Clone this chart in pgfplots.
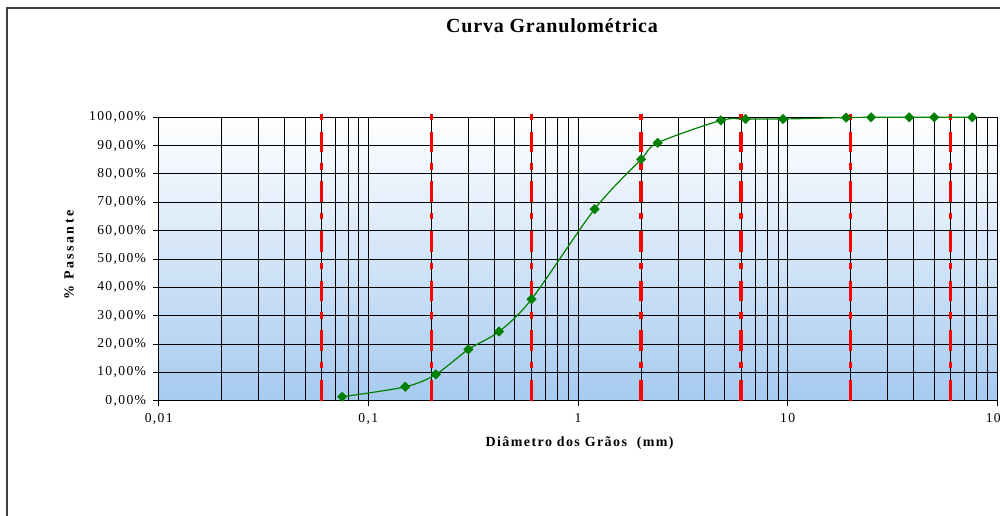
\documentclass[border=0pt]{standalone}
\usepackage{fontspec}
\setmainfont{Liberation Serif}
\newfontfamily\tickfont[LetterSpace=10]{Liberation Serif}
\newfontfamily\labfont[LetterSpace=10]{Liberation Serif}
\newfontfamily\ylabfont[LetterSpace=17]{Liberation Serif}
\newfontfamily\titfont[LetterSpace=4]{Liberation Serif}
\usepackage{pgfplots}
\pgfplotsset{compat=1.18}
\definecolor{bgblue}{RGB}{166,202,240}
\definecolor{ptgreen}{RGB}{0,128,0}
\definecolor{limred}{RGB}{255,0,0}

\pgfplotsset{limline/.style={limred, line width=1.65pt, line cap=butt, dash pattern=on 10.35pt off 5.85pt on 3.15pt off 5.5pt, forget plot}}

\begin{document}
\begin{tikzpicture}
\useasboundingbox (0,0) rectangle (500pt,257.5pt);
\draw[line width=1pt, black!75] (3.5pt,-5pt) -- (3.5pt,253.5pt) -- (505pt,253.5pt);
\node[anchor=center, inner sep=0pt] at (276pt,244.5pt) {\titfont\bfseries\fontsize{10}{12}\selectfont Curva Granulométrica};
\begin{axis}[
  at={(79.35pt,57.15pt)}, anchor=south west,
  scale only axis, width=419.3pt, height=141.7pt,
  xmode=log, xmin=0.01, xmax=100, ymin=0, ymax=100,
  xtick={0.01,0.1,1,10,100},
  xticklabels={{0,01},{0,1},1,10,100},
  minor xtick={0.02,0.03,0.04,0.05,0.06,0.07,0.08,0.09,0.2,0.3,0.4,0.5,0.6,0.7,0.8,0.9,2,3,4,5,6,7,8,9,20,30,40,50,60,70,80,90},
  ytick={0,10,20,30,40,50,60,70,80,90,100},
  yticklabels={{0,00\%},{10,00\%},{20,00\%},{30,00\%},{40,00\%},{50,00\%},{60,00\%},{70,00\%},{80,00\%},{90,00\%},{100,00\%}},
  grid=both,
  grid style={black, line width=0.5pt},
  minor grid style={black, line width=0.5pt},
  major grid style={black, line width=0.5pt},
  axis line style={black, line width=0.75pt},
  tick align=outside, major tick length=2.8pt, minor tick length=0pt,
  xtick pos=bottom, ytick pos=left,
  tick style={black, line width=0.5pt},
  tick label style={font=\tickfont\fontsize{6.8}{8}\selectfont},
  axis background/.style={shade, top color=white, bottom color=bgblue},
  clip=false,
  xlabel={\labfont\bfseries\fontsize{7}{8}\selectfont Diâmetro dos Grãos\ \ (mm)},
  xlabel style={at={(axis description cs:0.502,-0.148)}, anchor=center, inner sep=0pt},
  ylabel={\ylabfont\bfseries\fontsize{7}{8}\selectfont \% Passante},
  ylabel style={at={(axis description cs:-0.107,0.514)}, anchor=center, rotate=0, inner sep=0pt},
]
\addplot[limline] coordinates {(0.06,0) (0.06,101.6)};
\addplot[limline] coordinates {(0.2,0) (0.2,101.6)};
\addplot[limline] coordinates {(0.6,0) (0.6,101.6)};
\addplot[limline] coordinates {(2,0) (2,101.6)};
\addplot[limline] coordinates {(6,0) (6,101.6)};
\addplot[limline] coordinates {(20,0) (20,101.6)};
\addplot[limline] coordinates {(60,0) (60,101.6)};

\addplot[ptgreen, line width=0.6pt, smooth, tension=0.5, mark=square*, mark size=1.5pt,
  mark options={rotate=45, solid, fill=ptgreen, draw=ptgreen}] coordinates {
  (0.075,1.4) (0.15,4.9) (0.21,9.3) (0.3,18.1) (0.42,24.4) (0.6,35.8)
  (1.2,67.6) (2.0,85.2) (2.4,91.0) (4.8,98.9) (6.3,99.4) (9.5,99.4)
  (19,99.9) (25,100) (38,100) (50,100) (76,100)
};
\end{axis}
\end{tikzpicture}
\end{document}
